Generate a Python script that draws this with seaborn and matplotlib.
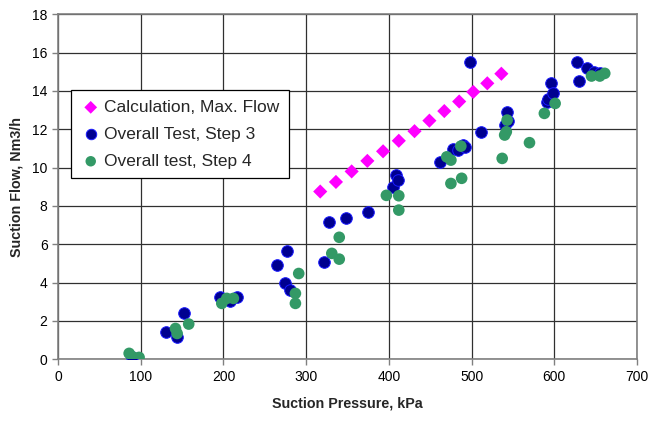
import numpy as np
import matplotlib
matplotlib.use("Agg")
import matplotlib.pyplot as plt
import pandas as pd
import seaborn as sns

# calculated max flow (magenta diamonds)
calc_p = [317, 336, 355, 374, 393, 412, 431, 449, 467, 485, 502, 519, 536]
calc_q = [8.75, 9.25, 9.8, 10.35, 10.85, 11.4, 11.9, 12.45, 12.95, 13.45, 13.95, 14.4, 14.9]

# overall test, step 3 (navy)
s3_p = [90, 131, 144, 152, 196, 208, 216, 265, 275, 277, 280, 321, 328, 348, 375,
        405, 409, 411, 462, 478, 484, 490, 492, 498, 511, 540, 544, 543,
        591, 592, 596, 599, 627, 630, 639, 648, 655]
s3_q = [0.1, 1.43, 1.13, 2.39, 3.25, 3.04, 3.25, 4.89, 3.98, 5.64, 3.6, 5.05, 7.17, 7.35, 7.66,
        8.97, 9.61, 9.35, 10.3, 10.95, 10.91, 11.17, 11.05, 15.5, 11.84, 12.22, 12.44, 12.91,
        13.44, 13.6, 14.4, 13.9, 15.5, 14.53, 15.18, 15.0, 14.92]

# overall test, step 4 (green)
s4_p = [86, 90, 98, 142, 144, 158, 198, 204, 212, 287, 287, 291, 331, 340, 340,
        397, 412, 412, 470, 475, 475, 487, 488, 537, 540, 542, 543, 570, 588, 601,
        645, 655, 661]
s4_q = [0.3, 0.12, 0.09, 1.6, 1.34, 1.83, 2.91, 3.17, 3.17, 2.91, 3.43, 4.47, 5.52, 5.22, 6.36,
        8.55, 8.53, 7.78, 10.56, 10.39, 9.17, 11.12, 9.44, 10.48, 11.7, 11.87, 12.48, 11.3, 12.83, 13.35,
        14.78, 14.78, 14.92]

calc = pd.DataFrame({"p": calc_p, "q": calc_q})
step3 = pd.DataFrame({"p": s3_p, "q": s3_q})
step4 = pd.DataFrame({"p": s4_p, "q": s4_q})

sns.set_style("white")
plt.rcParams['font.family'] = ['Liberation Sans', 'DejaVu Sans']

fig = plt.figure(figsize=(6.52, 4.22), dpi=100)
ax = fig.add_axes([0.089, 0.149, 0.888, 0.817])

sns.scatterplot(data=calc, x="p", y="q", ax=ax, marker="D", s=52, color="#FF00FF",
                edgecolor="none", label="Calculation, Max. Flow", zorder=3)
sns.scatterplot(data=step3, x="p", y="q", ax=ax, marker="o", s=70, color="#000090",
                edgecolor="#1a1aff", linewidth=0.7, label="Overall Test, Step 3", zorder=3)
sns.scatterplot(data=step4, x="p", y="q", ax=ax, marker="o", s=70, color="#339966",
                edgecolor="none", label="Overall test, Step 4", zorder=4)

ax.set_xlim(0, 700)
ax.set_ylim(0, 18)
ax.set_xticks(np.arange(0, 701, 100))
ax.set_yticks(np.arange(0, 19, 2))
ax.grid(True, color="#303030", linewidth=0.9)
ax.set_axisbelow(True)
for sp in ax.spines.values():
    sp.set_color("#808080")
    sp.set_linewidth(1.2)
ax.tick_params(axis="both", direction="out", length=4, width=1, color="#808080",
               labelsize=10, labelcolor="black", bottom=True, left=True)

ax.set_xlabel("Suction Pressure, kPa", fontsize=10.3, fontweight="bold", labelpad=9)
ax.set_ylabel("Suction Flow, Nm3/h", fontsize=10.3, fontweight="bold", labelpad=6)

leg = ax.legend(loc="upper left", bbox_to_anchor=(0.022, 0.78), borderaxespad=0,
                fontsize=12.5, frameon=True, fancybox=False, framealpha=1,
                edgecolor="black", handletextpad=0.15, handlelength=1.2,
                borderpad=0.55, labelspacing=0.68, markerscale=0.9)
leg.get_frame().set_linewidth(0.9)

fig.savefig("out.png", dpi=100)
